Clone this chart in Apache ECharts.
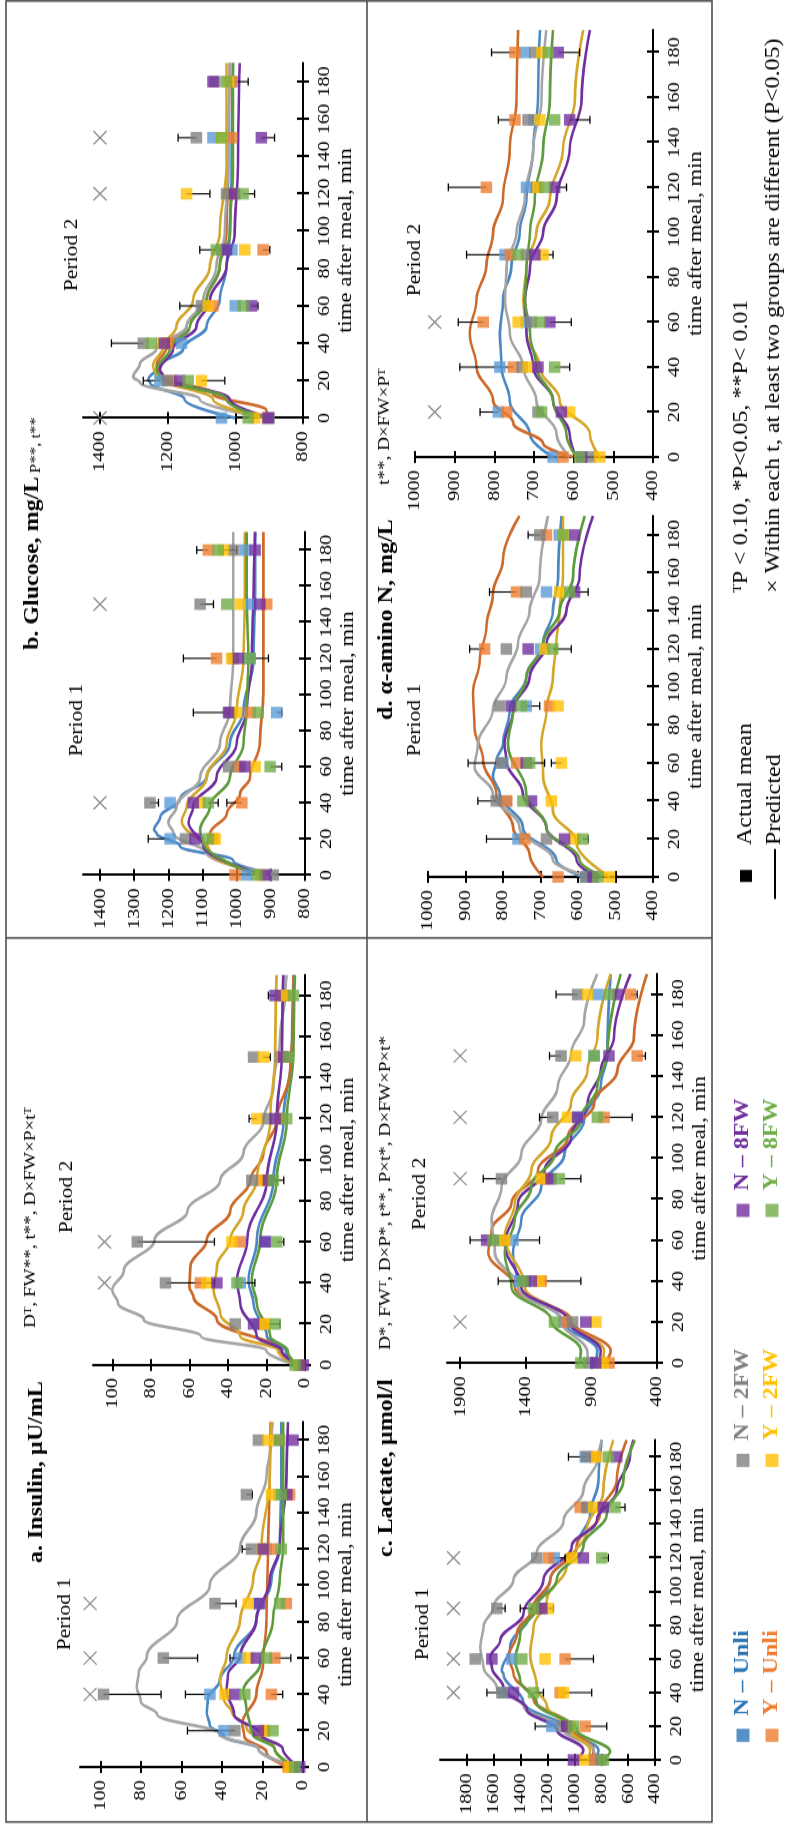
<!DOCTYPE html>
<html><head><meta charset="utf-8">
<script src="https://cdn.jsdelivr.net/npm/echarts@6/dist/echarts.min.js"></script>
<style>
html,body{margin:0;padding:0;width:785px;height:1827px;overflow:hidden;background:#fff}
#wrap{position:absolute;left:0;top:0;width:1523px;height:785px;transform-origin:0 0;transform:translateY(1827px) rotate(-90deg) scaleX(1.19961);}
</style></head>
<body><div id="wrap"></div>
<script>
// ---------------- DATA ----------------
const groupNames = ['N \u2013 Unli','Y \u2013 Unli','N \u2013 2FW','Y \u2013 2FW','N \u2013 8FW','Y \u2013 8FW'];
const sampleTimes = [0,20,40,60,90,120,150,180];
const timeTicks = [0,20,40,60,80,100,120,140,160,180];
const insulinTicks = [0,20,40,60,80,100];
const glucoseTicksP1 = [800,900,1000,1100,1200,1300,1400];
const glucoseTicksP2 = [800,1000,1200,1400];
const lactateTicksP1 = [400,600,800,1000,1200,1400,1600,1800];
const lactateTicksP2 = [400,900,1400,1900];
const aminoTicks = [400,500,600,700,800,900,1000];

// Insulin, period 1
const insulinP1Pred = [
 [[0,4],[10,22],[17,39],[23,46],[30,47.5],[37,47],[48,41],[61,34],[81,23],[103,15.6],[121,11.5],[158,10.7],[190,10.7]],
 [[0,7],[8,18],[17,29],[24,30],[40,23],[57,19.7],[81,18],[121,17.2],[158,16.4],[190,16]],
 [[0,3],[10,22],[18,41],[29,72],[36,80],[44,82],[52,81],[61,77],[81,62],[100,46],[121,31],[140,23],[160,18],[180,15.6],[190,15]],
 [[0,4],[10,14],[22,28],[30,35],[37,39],[48,41],[61,37.7],[81,31],[103,24.6],[121,20.5],[158,16.4],[190,15.5]],
 [[0,2],[10,10],[18,21],[29,34],[42,37.7],[51,37],[61,31],[81,23],[103,16.4],[121,11.5],[158,8.2],[190,7.4]],
 [[0,4],[10,14],[18,24.6],[22,26],[33,28],[42,29.5],[57,21],[81,14.8],[103,11.5],[121,9.8],[190,9.8]]
];
const insulinP1Mean = [
 [5,39,45.9,31,22,18,12,12],
 [7.4,19,15.6,13.9,8.2,15.6,6.6,12],
 [5,33.6,98.4,68.9,43.4,25.4,27.9,22],
 [6.6,18.9,38.5,27,27,20,15.6,17.2],
 [1.6,22,33.6,23,21.3,19.7,8,4.9],
 [4,14.8,28.7,18,11.5,10.7,10.7,11.5]
];
const insulinP1Err = [[20,2,57],[40,2,70],[40,0,58],[40,1,10],[60,2,52],[60,0,36],[60,1,6],[90,2,33],[120,2,30],[150,2,25]];
const insulinP1Sig = [40,60,90];

// Insulin, period 2
const insulinP2Pred = [
 [[0,4],[7,10],[14,19.8],[30,26.7],[41,29.3],[61,25],[90,16.4],[119,11.2],[152,6.9],[190,6]],
 [[0,4],[7,13],[22,45.7],[33,57.8],[38,60],[48,59.5],[61,51],[75,38.8],[90,28.4],[103,21.5],[119,14.7],[143,7.8],[168,6],[190,6]],
 [[0,4],[7,20],[14,54],[22,83.6],[30,97],[36.5,100],[46,94],[61,78],[75,61],[90,44],[103,32],[119,21.5],[135,16.4],[160,13],[180,10.3],[190,9.5]],
 [[0,4],[7,14],[14,33.6],[25,44],[36.5,47.4],[48,45.7],[61,38.8],[75,32],[90,25],[119,18],[152,15.5],[190,14.7]],
 [[0,3],[7,12],[14,25],[30,33.6],[41,35.3],[61,30],[90,19.8],[119,14.7],[152,12],[190,11.2]],
 [[0,4],[7,9],[14,18],[30,25],[41,27.6],[61,23.3],[90,14.7],[119,9.5],[152,6],[190,5.2]]
];
const insulinP2Mean = [
 [3,24,33.6,20.7,20,13,12.9,12],
 [3,22,54.3,33.6,22,13,12,10.3],
 [3,36.2,72.4,87,27.6,19.8,26.7,11],
 [3,20.7,50.9,37.9,21,25,21.6,11.2],
 [0.9,26.7,45.7,20.7,19,15.5,11,15.5],
 [5.2,15.5,35.3,14.7,16.4,9.5,8.6,6]
];
const insulinP2Err = [[20,3,13],[40,2,47],[40,0,26],[60,2,47],[60,5,11],[90,5,11],[120,3,29],[150,3,18],[180,4,19]];
const insulinP2Sig = [40,60];

// Glucose, period 1
const glucoseP1Pred = [
 [[0,883],[8,1010],[16,1166],[23,1234],[25,1242],[32,1224],[42,1166],[54,1088],[73,1020],[91,980],[119,951],[156,946],[190,946]],
 [[0,932],[16,1088],[23,1078],[34,1029],[45,990],[54,961],[73,932],[101,922],[138,922],[190,922]],
 [[0,893],[12,1088],[23,1185],[29,1200],[38,1176],[54,1107],[73,1049],[91,1020],[119,1010],[156,1010],[190,1010]],
 [[0,912],[12,1078],[30,1161],[38,1146],[54,1088],[73,1029],[91,1000],[119,980],[156,976],[190,976]],
 [[0,922],[16,1098],[29,1141],[38,1127],[54,1059],[73,1000],[91,971],[119,956],[156,951],[190,946]],
 [[0,941],[18,1098],[25,1107],[38,1078],[54,1020],[73,980],[91,971],[119,966],[156,971],[190,971]]
];
const glucoseP1Mean = [
 [971,1195,1195,990,883,961,966,976],
 [1005,1070,985,995,960,1059,912,1083],
 [893,1150,1254,1024,1020,1010,1107,1010],
 [930,1063,1107,946,1000,1015,990,1039],
 [917,1122,1127,976,1024,995,932,946],
 [941,1083,1083,902,937,961,1029,1054]
];
const glucoseP1Err = [[20,0,1259],[40,2,1229],[40,5,1054],[40,1,1029],[60,5,868],[90,4,1127],[90,0,868],[120,1,1156],[120,5,907],[150,2,1068],[180,1,1117],[180,3,1000]];
const glucoseP1Sig = [40,150];

// Glucose, period 2
const glucoseP2Pred = [
 [[0,1000],[10,1150],[19,1252],[20.5,1257],[28,1223],[37,1154],[49,1085],[63,1046],[81,1026],[99,1016],[135,1011],[190,1007]],
 [[0,890],[4,908],[13,1066],[22,1213],[28,1233],[38,1203],[49,1144],[63,1085],[81,1046],[99,1026],[135,1021],[190,1016]],
 [[0,905],[10,1105],[19,1282],[22,1302],[29,1282],[37,1233],[49,1144],[63,1095],[81,1056],[99,1031],[135,1021],[190,1016]],
 [[0,910],[10,1066],[22,1233],[28,1243],[38,1213],[49,1174],[63,1125],[81,1075],[99,1046],[135,1026],[190,1026]],
 [[0,900],[10,1016],[22,1213],[26,1223],[37,1184],[49,1115],[63,1075],[81,1026],[99,1002],[135,992],[190,987]],
 [[0,915],[10,1026],[22,1223],[26,1233],[37,1193],[49,1134],[63,1085],[81,1046],[99,1016],[135,1007],[190,1007]]
];
const glucoseP2Mean = [
 [1041,1223,1159,1000,1010,1010,1066,1010],
 [905,1189,1200,1066,918,1010,1010,1010],
 [900,1200,1272,1100,1040,1026,1115,1060],
 [943,1100,1218,1080,972,1144,1040,1020],
 [903,1164,1210,952,1026,1002,923,1066],
 [962,1139,1248,977,1056,977,1041,1026]
];
const glucoseP2Err = [[20,0,1272],[20,3,1031],[40,2,1366],[60,2,1164],[60,4,933],[90,5,1105],[90,1,898],[120,3,1075],[120,5,943],[150,2,1169],[150,4,884],[180,5,962]];
const glucoseP2Sig = [0,120,150];

// Lactate, period 1
const lactateP1Pred = [
 [[0,850],[6,821],[18,1057],[34,1379],[51,1527],[53,1540],[67,1478],[87,1329],[107,1180],[127,982],[146,883],[166,821],[190,796]],
 [[0,880],[6,858],[20,1032],[36,1304],[51,1453],[61,1490],[75,1428],[91,1304],[107,1180],[127,982],[146,809],[166,685],[190,611]],
 [[0,800],[6,858],[18,1081],[32,1379],[43,1577],[55,1676],[67,1701],[79,1676],[91,1602],[107,1453],[123,1280],[142,1081],[160,933],[180,821],[190,796]],
 [[0,900],[6,883],[18,1032],[32,1205],[43,1280],[63,1329],[79,1304],[95,1205],[115,1057],[136,908],[160,784],[190,710]],
 [[0,980],[6,933],[18,1131],[30,1354],[43,1527],[55,1614],[61,1626],[71,1552],[87,1379],[107,1230],[127,1019],[142,834],[160,685],[180,586],[190,561]],
 [[0,800],[5,734],[18,982],[34,1280],[47,1403],[59,1441],[75,1403],[91,1280],[107,1131],[127,933],[146,759],[166,635],[190,549]]
];
const lactateP1Mean = [
 [850,1168,1527,1465,1250,1150,900,920],
 [846,920,1106,1069,1270,1193,957,850],
 [800,1090,1540,1738,1577,1280,908,908],
 [933,1030,1081,1218,1193,1019,858,834],
 [1007,1057,1453,1614,1242,933,784,685],
 [784,1007,1304,1391,1304,796,697,747]
];
const lactateP1Err = [[20,0,1292],[20,1,759],[40,0,1651],[40,5,1230],[40,3,871],[60,1,858],[90,2,1515],[90,5,1403],[90,3,1156],[120,1,1069],[120,5,747],[150,5,623],[180,2,1044]];
const lactateP1Sig = [40,60,90,120];

// Lactate, period 2
const lactateP2Pred = [
 [[0,870],[6,854],[21,1131],[37,1459],[54,1497],[70,1434],[86,1282],[102,1106],[119,955],[135,829],[151,778],[190,753]],
 [[0,800],[6,753],[21,1055],[37,1484],[54,1686],[65,1660],[78,1509],[94,1307],[110,1081],[127,879],[143,702],[159,576],[190,476]],
 [[0,920],[5,929],[21,1131],[37,1459],[54,1635],[70,1660],[86,1585],[102,1434],[119,1282],[135,1156],[151,1055],[167,955],[190,854]],
 [[0,820],[6,803],[21,1081],[37,1408],[62,1560],[78,1484],[94,1358],[110,1207],[127,1055],[143,929],[159,854],[190,753]],
 [[0,840],[6,829],[21,1081],[37,1434],[58,1560],[78,1459],[94,1257],[110,1055],[127,929],[143,829],[159,728],[190,602]],
 [[0,990],[6,980],[21,1207],[37,1509],[54,1560],[70,1484],[86,1358],[102,1181],[119,980],[135,854],[151,778],[190,677]]
];
const lactateP2Mean = [
 [870,1110,1446,1497,1230,1000,880,854],
 [765,1090,1282,1572,1250,803,551,602],
 [920,1043,1400,1600,1585,1194,1131,1005],
 [810,866,1300,1560,1282,1081,1018,929],
 [866,942,1358,1698,1207,1005,766,700],
 [980,1181,1421,1648,1144,854,879,766]
];
const lactateP2Err = [[40,1,980],[40,2,1610],[60,4,1824],[60,0,1295],[90,2,1724],[90,5,980],[120,2,1295],[120,1,589],[150,2,1219],[150,1,488],[180,2,1169],[180,1,551]];
const lactateP2Sig = [20,90,120,150];

// alpha-amino N, period 1
const aminoP1Pred = [
 [[0,587],[9,658],[26,747],[44,809],[53,827],[61,818],[70,800],[88,782],[105,738],[123,693],[140,667],[158,653],[190,644]],
 [[0,693],[12,729],[26,773],[44,818],[61,853],[79,876],[97,880],[114,862],[132,844],[149,827],[167,800],[190,756]],
 [[0,569],[9,667],[26,756],[44,827],[58,876],[70,867],[88,827],[105,791],[123,760],[140,729],[158,702],[190,680]],
 [[0,516],[18,604],[35,667],[53,693],[70,698],[88,684],[105,667],[123,658],[140,649],[158,640],[190,640]],
 [[0,551],[9,604],[26,684],[44,747],[61,791],[70,796],[88,773],[105,729],[123,684],[140,631],[158,596],[190,560]],
 [[0,533],[9,596],[26,684],[44,738],[70,787],[88,773],[105,738],[123,693],[140,649],[158,613],[190,582]]
];
const aminoP1Mean = [
 [578,760,791,800,738,700,684,650],
 [653,742,790,764,676,849,764,684],
 [580,684,818,804,809,791,738,702],
 [516,609,671,644,653,689,649,640],
 [560,636,724,738,778,733,609,609],
 [547,587,747,729,751,667,622,640]
];
const aminoP1Err = [[20,1,844],[20,5,573],[40,2,867],[60,2,893],[60,5,689],[60,3,671],[90,0,702],[120,1,889],[120,5,618],[150,1,836],[150,4,573],[180,2,733]];
const aminoP1Sig = [];

// alpha-amino N, period 2
const aminoP2Pred = [
 [[0,652],[10,710],[25,761],[40,782],[55,786],[70,778],[85,757],[100,736],[115,719],[137,702],[159,690],[190,685]],
 [[0,601],[6,677],[15,752],[25,803],[40,845],[55,862],[70,845],[85,820],[100,803],[115,778],[137,761],[159,744],[190,740]],
 [[0,610],[10,643],[25,694],[40,727],[55,761],[70,773],[85,769],[100,744],[115,723],[137,702],[159,681],[190,669]],
 [[0,534],[10,559],[25,635],[40,685],[55,719],[70,727],[85,719],[100,694],[115,660],[137,627],[159,597],[190,576]],
 [[0,593],[10,610],[25,652],[40,702],[55,719],[70,723],[85,710],[100,677],[115,643],[137,610],[159,580],[190,559]],
 [[0,593],[10,618],[25,652],[40,694],[55,710],[70,723],[85,719],[100,710],[115,698],[137,677],[159,660],[190,652]]
];
const aminoP2Mean = [
 [652,790,786,720,773,719,700,723],
 [627,769,752,828,760,820,748,748],
 [559,690,730,706,719,694,715,698],
 [534,610,715,740,677,690,685,680],
 [580,631,690,660,698,648,610,639],
 [585,681,648,685,740,673,648,664]
];
const aminoP2Err = [[20,0,836],[40,1,887],[40,5,610],[60,1,891],[60,4,606],[90,0,870],[90,3,652],[120,1,916],[120,4,618],[150,1,790],[150,4,559],[180,1,807],[180,4,585]];
const aminoP2Sig = [20,60];

// ---------------- STYLE / LAYOUT ----------------
const S = 1827 / 1523;
const FONT = "'Liberation Serif','Times New Roman',serif";
const markerColors = ['#5B9BD5','#ED7D31','#7F7F7F','#FFC000','#7030A0','#70AD47'];
const lineColors = ['#4A87C4','#CC6A2B','#A5A5A5','#D4A62A','#7030A0','#5E9B3D'];
const legendColors = ['#2E75B6','#ED7D31','#808080','#FFC000','#7030A0','#70AD47'];
const drawOrder = [0,1,2,3,4,5];

const panels = [
 {X0:60,  X1:405,  Y0:80,  Y1:303, min:0,   max:110,  ticks:insulinTicks,   pred:insulinP1Pred, mean:insulinP1Mean, err:insulinP1Err, sig:insulinP1Sig, sigV:105,  period:'Period 1', px:213,  py:65},
 {X0:462, X1:852,  Y0:93,  Y1:305, min:0,   max:110,  ticks:insulinTicks,   pred:insulinP2Pred, mean:insulinP2Mean, err:insulinP2Err, sig:insulinP2Sig, sigV:104,  period:'Period 2', px:630,  py:67},
 {X0:952, X1:1295, Y0:83,  Y1:305, min:800, max:1450, ticks:glucoseTicksP1, pred:glucoseP1Pred, mean:glucoseP1Mean, err:glucoseP1Err, sig:glucoseP1Sig, sigV:1400, period:'Period 1', px:1107, py:77},
 {X0:1409,X1:1764, Y0:83,  Y1:303, min:800, max:1450, ticks:glucoseTicksP2, pred:glucoseP2Pred, mean:glucoseP2Mean, err:glucoseP2Err, sig:glucoseP2Sig, sigV:1400, period:'Period 2', px:1572, py:72},
 {X0:67,  X1:387,  Y0:440, Y1:655, min:400, max:2000, ticks:lactateTicksP1, pred:lactateP1Pred, mean:lactateP1Mean, err:lactateP1Err, sig:lactateP1Sig, sigV:1900, period:'Period 1', px:203,  py:423},
 {X0:464, X1:853,  Y0:447, Y1:657, min:400, max:2000, ticks:lactateTicksP2, pred:lactateP2Pred, mean:lactateP2Mean, err:lactateP2Err, sig:lactateP2Sig, sigV:1900, period:'Period 2', px:633,  py:420},
 {X0:950, X1:1311, Y0:428, Y1:653, min:400, max:1000, ticks:aminoTicks,     pred:aminoP1Pred,   mean:aminoP1Mean,   err:aminoP1Err,   sig:aminoP1Sig,   sigV:950,  period:'Period 1', px:1107, py:415},
 {X0:1370,X1:1797, Y0:415, Y1:653, min:400, max:1000, ticks:aminoTicks,     pred:aminoP2Pred,   mean:aminoP2Mean,   err:aminoP2Err,   sig:aminoP2Sig,   sigV:950,  period:'Period 2', px:1567, py:415}
];

const grids = [], xAxes = [], yAxes = [], series = [], graphics = [];
const axisLineStyle = {color:'#000', width:2};
const plain = v => String(v);

panels.forEach((p, i) => {
  grids.push({left:p.X0/S, top:p.Y0, width:(p.X1-p.X0)/S, height:p.Y1-p.Y0});
  xAxes.push({type:'value', gridIndex:i, position:'bottom', min:0, max:190,
    axisLine:{show:true, onZero:false, lineStyle:axisLineStyle},
    axisTick:{show:true, customValues:timeTicks, length:6, lineStyle:axisLineStyle},
    axisLabel:{show:true, customValues:timeTicks, formatter:plain, fontSize:17, fontFamily:FONT, color:'#000', margin:13},
    splitLine:{show:false},
    name:'time after meal, min', nameLocation:'middle', nameGap:34,
    nameTextStyle:{fontSize:19, fontFamily:FONT, color:'#000'}});
  xAxes.push({type:'value', gridIndex:i, position:'bottom', min:0, max:190,
    axisLine:{show:false}, axisTick:{show:true, inside:true, customValues:timeTicks, length:6, lineStyle:axisLineStyle},
    axisLabel:{show:false}, splitLine:{show:false}});
  yAxes.push({type:'value', gridIndex:i, position:'left', min:p.min, max:p.max,
    axisLine:{show:true, onZero:false, lineStyle:axisLineStyle},
    axisTick:{show:true, customValues:p.ticks, length:5, lineStyle:axisLineStyle},
    axisLabel:{show:true, customValues:p.ticks, formatter:plain, fontSize:17, fontFamily:FONT, color:'#000', margin:11},
    splitLine:{show:false}});
  yAxes.push({type:'value', gridIndex:i, position:'left', min:p.min, max:p.max,
    axisLine:{show:false}, axisTick:{show:true, inside:true, customValues:p.ticks, length:5, lineStyle:axisLineStyle},
    axisLabel:{show:false}, splitLine:{show:false}});

  const xi = 2*i, yi = 2*i;
  p.pred.forEach((d, k) => {
    series.push({type:'line', xAxisIndex:xi, yAxisIndex:yi, data:d, smooth:0.4, smoothMonotone:'x',
      showSymbol:false, symbol:'none', silent:true, z:2,
      lineStyle:{color:lineColors[k], width:2.6}});
  });
  series.push({type:'custom', xAxisIndex:xi, yAxisIndex:yi, z:3, silent:true, clip:false,
    data:p.err.map(e => [e[0], p.mean[e[1]][sampleTimes.indexOf(e[0])], e[2]]),
    encode:{x:0, y:[1,2]},
    renderItem:(params, api) => {
      const t = api.value(0), a = api.coord([t, api.value(1)]), b = api.coord([t, api.value(2)]);
      const c = 3.3;
      return {type:'group', children:[
        {type:'line', shape:{x1:a[0], y1:a[1], x2:b[0], y2:b[1]}, style:{stroke:'#000', lineWidth:1.1}},
        {type:'line', shape:{x1:b[0]-c, y1:b[1], x2:b[0]+c, y2:b[1]}, style:{stroke:'#000', lineWidth:1.3}}
      ]};
    }});
  drawOrder.forEach(k => {
    series.push({type:'scatter', name:groupNames[k], xAxisIndex:xi, yAxisIndex:yi, z:4, silent:true, clip:false,
      data:sampleTimes.map((t, j) => [t, p.mean[k][j]]),
      symbol:'rect', symbolSize:[9.6, 11.5], itemStyle:{color:markerColors[k]}});
  });
  series.push({type:'scatter', xAxisIndex:xi, yAxisIndex:yi, z:5, silent:true, clip:false,
    data:p.sig.map(t => [t, p.sigV]),
    symbol:'path://M0 0L10 10M10 0L0 10', symbolSize:[11, 13],
    itemStyle:{color:'rgba(0,0,0,0)', borderColor:'#666', borderWidth:1.2}});

  graphics.push({type:'text', x:p.px/S, y:p.py, silent:true,
    style:{text:p.period, fontSize:18, fontFamily:FONT, fill:'#000', align:'center', verticalAlign:'middle', textAlign:'center', textVerticalAlign:'middle'}});
});

function txt(X, Y, text, rich, extra) {
  return Object.assign({type:'text', x:X/S, y:Y, silent:true,
    style:{text:text, rich:rich, fontFamily:FONT, fill:'#000', align:'left', verticalAlign:'middle', textAlign:'left', textVerticalAlign:'middle'}}, extra || {});
}
const R = {
  t:{fontSize:20, fontWeight:'bold', fontFamily:FONT, color:'#000', verticalAlign:'bottom'},
  s:{fontSize:16, fontFamily:FONT, color:'#000', verticalAlign:'bottom'},
  ss:{fontSize:14, fontFamily:FONT, color:'#000', verticalAlign:'bottom'},
  sup:{fontSize:10, fontFamily:FONT, color:'#000', verticalAlign:'top'},
  f:{fontSize:20, fontFamily:FONT, color:'#000', verticalAlign:'bottom'},
  fsup:{fontSize:12, fontFamily:FONT, color:'#000', verticalAlign:'top'}
};
graphics.push(txt(264, 37, '{t|a. Insulin, \u00b5U/mL}', R));
graphics.push(txt(499, 31, '{s|D}{sup|T}{s|, FW**, t**, D\u00d7FW\u00d7P\u00d7t}{sup|T}', R));
graphics.push(txt(1177, 33, '{t|b. Glucose, mg/L} {ss|P**, t**}', R));
graphics.push(txt(270, 387, '{t|c. Lactate, \u00b5mol/l}', R));
graphics.push(txt(477, 386, '{s|D*, FW}{sup|T}{s|, D\u00d7P*, t**, P\u00d7t*, D\u00d7FW\u00d7P\u00d7t*}', R));
graphics.push(txt(1107, 387, '{t|d. \u03b1-amino N, mg/L}', R));
graphics.push(txt(1342, 385, '{s|t**, D\u00d7FW\u00d7P}{sup|T}', R));

// footnotes
graphics.push(txt(1234, 742, '{fsup|T}{f|P < 0.10, *P<0.05, **P< 0.01}', R));
graphics.push(txt(1234, 774, '{f|\u00d7 Within each t, at least two groups are different (P<0.05)}', R));
graphics.push({type:'rect', silent:true, shape:{x:945/S, y:740, width:12/S, height:12}, style:{fill:'#000'}});
graphics.push(txt(982, 746, '{f|Actual mean}', R));
graphics.push({type:'line', silent:true, shape:{x1:928/S, y1:775, x2:978/S, y2:775}, style:{stroke:'#000', lineWidth:2}});
graphics.push(txt(982, 775, '{f|Predicted}', R));

// frame
graphics.push({type:'rect', silent:true, shape:{x:5/S, y:6, width:(1826-5)/S, height:706}, style:{fill:'none', stroke:'#444', lineWidth:1.4}});
graphics.push({type:'line', silent:true, shape:{x1:5/S, y1:367, x2:1826/S, y2:367}, style:{stroke:'#444', lineWidth:1.4}});
graphics.push({type:'line', silent:true, shape:{x1:889/S, y1:6, x2:889/S, y2:712}, style:{stroke:'#444', lineWidth:1.4}});

// legends
const legendColX = [85, 360, 610];
const legendRowY = [745, 774];
const legends = groupNames.map((n, k) => ({
  data:[{name:n, itemStyle:{color:legendColors[k]}, textStyle:{color:legendColors[k]}}],
  left:legendColX[Math.floor(k/2)]/S, top:legendRowY[k%2]-12, padding:0,
  icon:'rect', itemWidth:11, itemHeight:13, selectedMode:false,
  textStyle:{fontFamily:FONT, fontSize:20, fontWeight:'bold', padding:[0,0,0,6]}
}));

const chart = echarts.init(document.getElementById('wrap'), null, {renderer:'canvas', width:1523, height:785});
chart.setOption({
  animation:false, backgroundColor:'#fff',
  grid:grids, xAxis:xAxes, yAxis:yAxes, series:series, legend:legends, graphic:graphics
});
</script>
</body></html>
